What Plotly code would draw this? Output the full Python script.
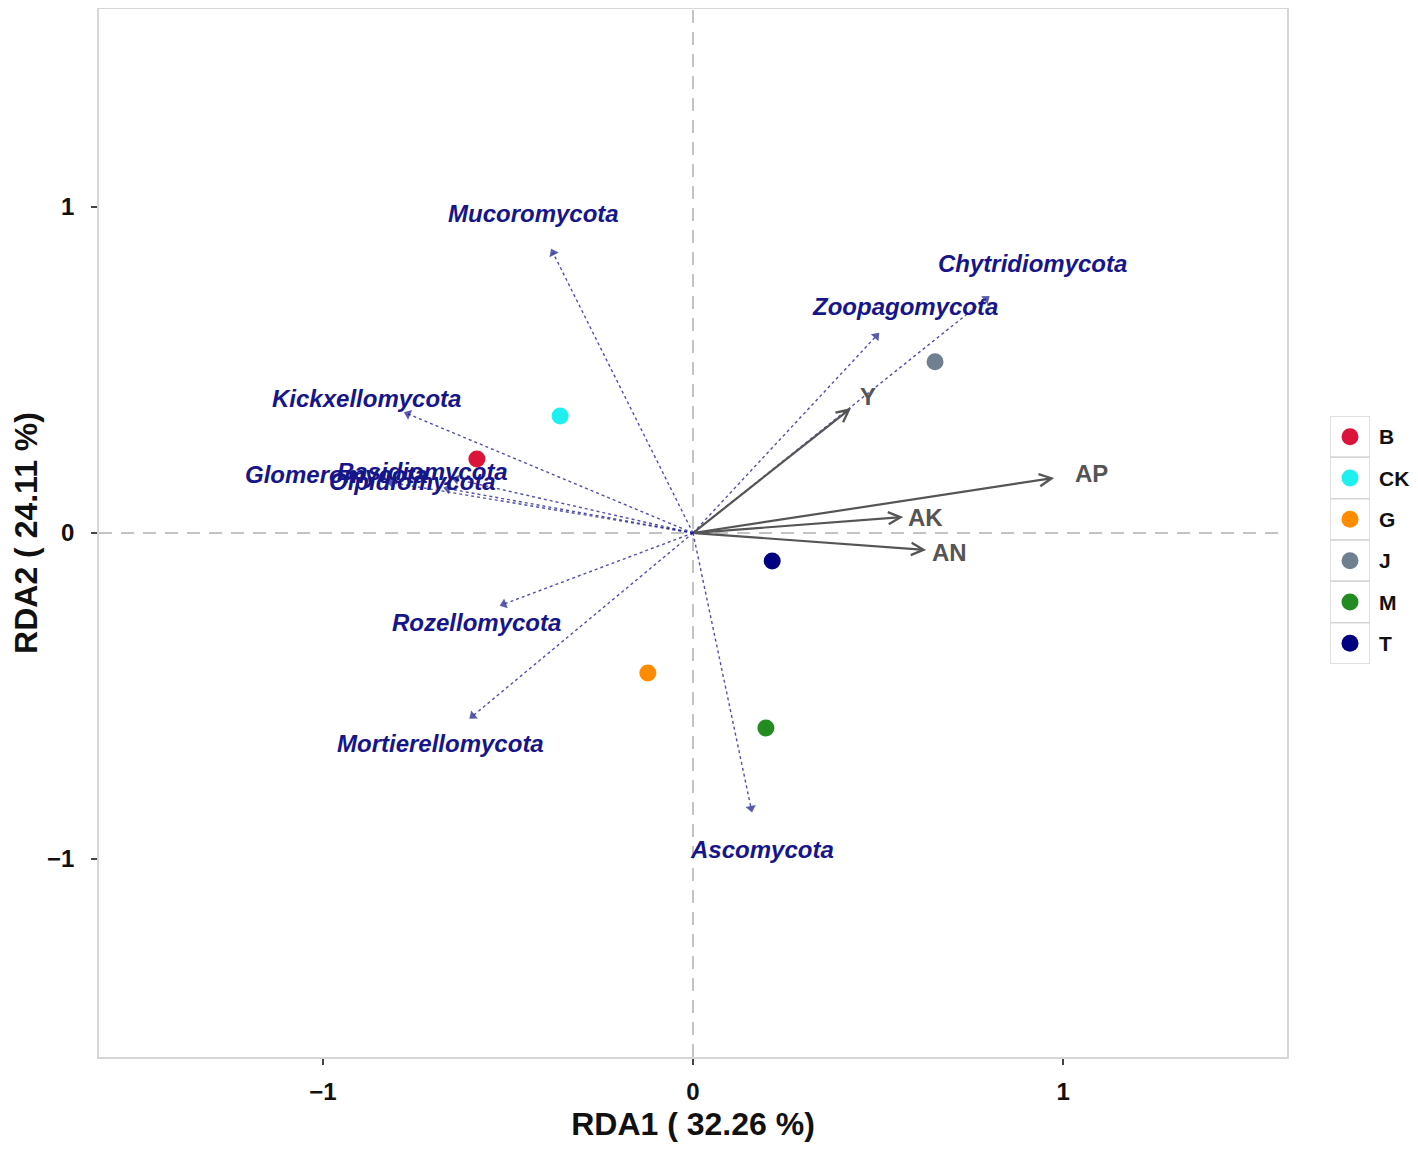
import plotly.graph_objects as go

# ---------------------------------------------------------------
# Data
# ---------------------------------------------------------------
sites = ["B", "CK", "G", "J", "M", "T"]
site_x = [-0.584, -0.359, -0.122, 0.654, 0.197, 0.214]
site_y = [0.227, 0.359, -0.429, 0.525, -0.598, -0.086]
site_colors = ["#DC143C", "#1EF0F0", "#FF8C00", "#708090", "#228B22", "#000080"]

phyla = ["Mucoromycota", "Chytridiomycota", "Zoopagomycota", "Kickxellomycota",
         "Glomeromycota", "Basidiomycota", "Olpidiomycota", "Rozellomycota",
         "Mortierellomycota", "Ascomycota"]
phyla_x = [-0.378, 0.792, 0.495, -0.770, -0.816, -0.640, -0.663, -0.511, -0.595, 0.157]
phyla_y = [0.859, 0.718, 0.604, 0.365, 0.155, 0.165, 0.136, -0.218, -0.561, -0.844]
phyla_label_x = [-0.430, 0.916, 0.573, -0.881, -0.962, -0.730, -0.759, -0.586, -0.682, 0.186]
phyla_label_y = [0.979, 0.825, 0.696, 0.414, 0.178, 0.190, 0.157, -0.273, -0.647, -0.972]

env = ["AK", "AN", "AP", "Y"]
env_x = [0.568, 0.630, 0.976, 0.427]
env_y = [0.049, -0.052, 0.169, 0.383]
env_label_x = [0.627, 0.692, 1.076, 0.473]
env_label_y = [0.049, -0.061, 0.184, 0.420]

x_title = "RDA1 ( 32.26 %)"
y_title = "RDA2 ( 24.11 %)"

# ---------------------------------------------------------------
# Figure
# ---------------------------------------------------------------
FONT = "Liberation Sans, Arial, Helvetica, sans-serif"
PHYLA_COLOR = "#16168A"
PHYLA_LINE = "rgba(35,35,150,0.8)"
ENV_COLOR = "#555555"

fig = go.Figure()

# zero reference lines
fig.add_hline(y=0, line=dict(color="#C4C4C4", width=2, dash="13px,9px"), layer="below")
fig.add_vline(x=0, line=dict(color="#C4C4C4", width=2, dash="13px,9px"), layer="below")

# sample points
for s, x, y, c in zip(sites, site_x, site_y, site_colors):
    fig.add_trace(go.Scatter(x=[x], y=[y], mode="markers", name=s, showlegend=False,
                             marker=dict(color=c, size=17, line=dict(width=0))))

# phylum arrows (dotted with small filled head)
for p, x, y in zip(phyla, phyla_x, phyla_y):
    fig.add_trace(go.Scatter(x=[0, x], y=[0, y], mode="lines+markers", name=p, showlegend=False,
                             line=dict(color=PHYLA_LINE, width=1.4, dash="3px,3px"),
                             marker=dict(symbol=["circle", "triangle-up"], size=[0, 9],
                                         color=PHYLA_COLOR, angleref="previous",
                                         line=dict(width=0))))

for p, lx, ly in zip(phyla, phyla_label_x, phyla_label_y):
    fig.add_annotation(x=lx, y=ly, text=p, showarrow=False, xref="x", yref="y",
                       font=dict(family=FONT, size=24, color=PHYLA_COLOR,
                                 weight="bold", style="italic"))

# environmental arrows (solid grey, open head)
for e, x, y in zip(env, env_x, env_y):
    fig.add_annotation(x=x, y=y, ax=0, ay=0, xref="x", yref="y", axref="x", ayref="y",
                       text="", showarrow=True, arrowhead=5, arrowsize=1.1,
                       arrowwidth=2.2, arrowcolor=ENV_COLOR, standoff=0)

for e, lx, ly in zip(env, env_label_x, env_label_y):
    fig.add_annotation(x=lx, y=ly, text=e, showarrow=False, xref="x", yref="y",
                       font=dict(family=FONT, size=24, color=ENV_COLOR, weight="bold"))

# ---------------------------------------------------------------
# Hand-made legend with boxed keys (second, hidden axis pair)
# ---------------------------------------------------------------
legend_idx = list(range(len(sites)))
fig.add_trace(go.Scatter(x=[0.5] * len(sites), y=legend_idx, mode="markers",
                         xaxis="x2", yaxis="y2", showlegend=False, hoverinfo="skip",
                         marker=dict(color=site_colors, size=17, line=dict(width=0))))
for i, s in zip(legend_idx, sites):
    fig.add_shape(type="rect", xref="x2", yref="y2", x0=0, x1=1, y0=i - 0.5, y1=i + 0.5,
                  line=dict(color="#D6D6D6", width=1.5), fillcolor="white", layer="below")
    fig.add_annotation(x=1, y=i, xref="x2", yref="y2", text=s, showarrow=False,
                       xanchor="left", xshift=7,
                       font=dict(family=FONT, size=21, color="#111111", weight="bold"))

axis_common = dict(showgrid=False, zeroline=False, showline=True, mirror=True,
                   linecolor="#D6D6D6", linewidth=1.5, ticks="outside", ticklen=6,
                   tickwidth=1.5, tickcolor="#444444",
                   tickfont=dict(family=FONT, size=24, color="#111111", weight="bold"),
                   tickvals=[-1, 0, 1], ticktext=["\u22121", "0", "1"])

fig.update_layout(
    width=1411, height=1144,
    paper_bgcolor="white", plot_bgcolor="white",
    margin=dict(l=91, r=0, t=1, b=95),
    showlegend=False,
    xaxis=dict(axis_common, domain=[0, 0.9], range=[-1.605, 1.605],
               ticklabelstandoff=6,
               title=dict(text=x_title, standoff=9,
                          font=dict(family=FONT, size=32, color="#111111", weight="bold"))),
    yaxis=dict(axis_common, range=[-1.607, 1.607], ticklabelstandoff=12,
               title=dict(text=y_title, standoff=1,
                          font=dict(family=FONT, size=32, color="#111111", weight="bold"))),
    xaxis2=dict(domain=[0.93258, 0.96288], range=[0, 1], visible=False, anchor="y2"),
    yaxis2=dict(domain=[0.375, 0.6116], range=[5.5, -0.5], visible=False, anchor="x2"),
)

fig.write_html("out.html")
